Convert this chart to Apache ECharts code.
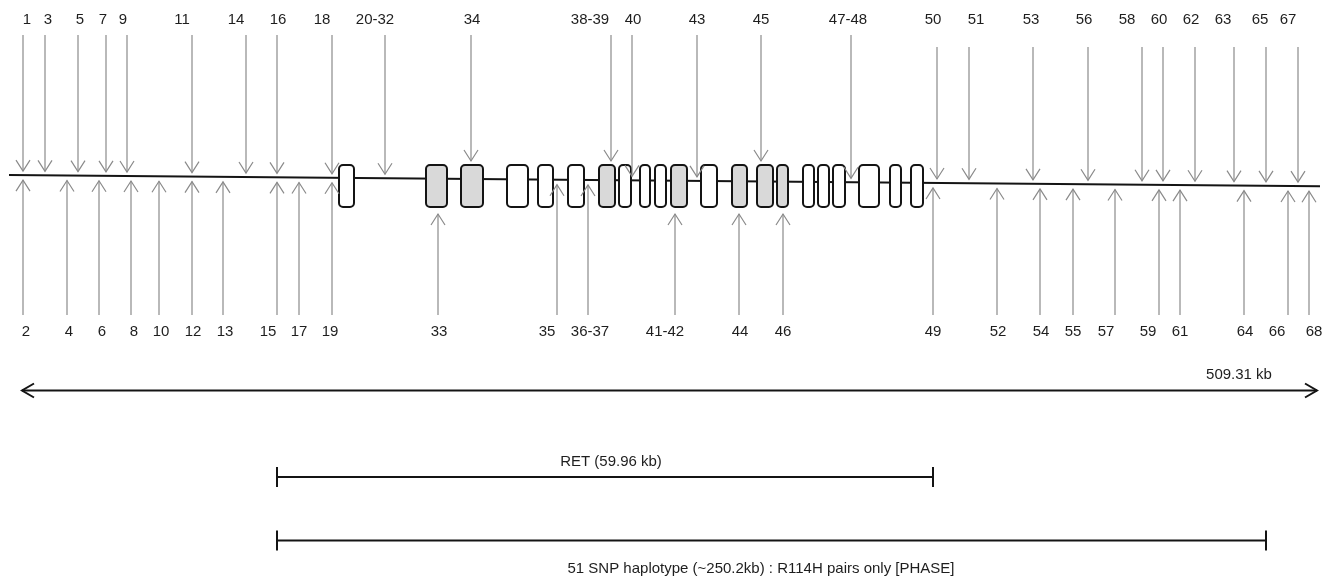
<!DOCTYPE html>
<html><head><meta charset="utf-8">
<script src="https://cdn.jsdelivr.net/npm/echarts@6/dist/echarts.min.js"></script>
<style>html,body{margin:0;padding:0;background:#fff}#c{width:1332px;height:576px}</style>
</head><body><div id="c"></div>
<script>
// ---- data (diagram position units along the locus) ----
const topLabels   = ['1','3','5','7','9','11','14','16','18','20-32','34','38-39','40','43','45','47-48','50','51','53','56','58','60','62','63','65','67'];
const topSnpX     = [23,45,78,106,127,192,246,277,332,385,471,611,632,697,761,851,937,969,1033,1088,1142,1163,1195,1234,1266,1298];
const topLabelX   = [27,48,80,103,123,182,236,278,322,375,472,590,633,697,761,848,933,976,1031,1084,1127,1159,1191,1223,1260,1288];

const bottomLabels = ['2','4','6','8','10','12','13','15','17','19','33','35','36-37','41-42','44','46','49','52','54','55','57','59','61','64','66','68'];
const bottomSnpX   = [23,67,99,131,159,192,223,277,299,332,438,557,588,675,739,783,933,997,1040,1073,1115,1159,1180,1244,1288,1309];
const bottomLabelX = [26,69,102,134,161,193,225,268,299,330,439,547,590,665,740,783,933,998,1041,1073,1106,1148,1180,1245,1277,1314];

const exonStart  = [339,426,461,507,538,568,599,619,640,655,671,701,732,757,777,803,818,833,859,890,911];
const exonEnd    = [354,447,483,528,553,584,615,631,650,666,687,717,747,773,788,814,829,845,879,901,923];
const exonShaded = [0,1,1,0,0,0,1,0,0,0,1,0,1,1,1,0,0,0,0,0,0];

const backboneX = [9, 1320];
const backboneY = [175, 186.3];

const spanX = [22, 1317];           // double arrow, 509.31 kb
const spanLabel = '509.31 kb';
const retX = [277, 933];
const retLabel = 'RET (59.96 kb)';
const hapX = [277, 1266];
const hapLabel = '51 SNP haplotype (~250.2kb) : R114H pairs only [PHASE]';

// ---- layout / style ----
const L = {
  topLabelY: 20, topStemY: 35, topStemYRight: 47, rightFrom: 920,
  bottomStemY: 315, bottomLabelY: 332,
  exonTop: 165, exonBottom: 207,
  spanY: 390.5, spanLabelY: 375, spanLabelX: 1239,
  retY: 477, retLabelY: 462, retLabelX: 611,
  hapY: 540.5, hapLabelY: 569, hapLabelX: 761,
  head: 7, headLen: 11
};
const FONT = '15px "Liberation Sans", Arial, sans-serif';
const TXT = '#1e1e1e', SNP = '#8a8a8a', INK = '#141414';

function lineY(x) {
  return backboneY[0] + (backboneY[1] - backboneY[0]) * (x - backboneX[0]) / (backboneX[1] - backboneX[0]);
}
function inExon(x) {
  for (let i = 0; i < exonStart.length; i++) if (x >= exonStart[i] && x <= exonEnd[i]) return true;
  return false;
}
function txt(p, s, extra) {
  return Object.assign({ type: 'text', silent: true, style: {
    text: s, x: p[0], y: p[1], fill: TXT, font: FONT,
    align: 'center', verticalAlign: 'middle', textAlign: 'center', textVerticalAlign: 'middle'
  }}, extra || {});
}

const chart = echarts.init(document.getElementById('c'), null, { renderer: 'canvas' });

const topData = topSnpX.map((x, i) => [x, topLabelX[i], i]);
const bottomData = bottomSnpX.map((x, i) => [x, bottomLabelX[i], i]);
const exonData = exonStart.map((s, i) => [s, exonEnd[i], exonShaded[i]]);

function snpRender(isTop) {
  return function (params, api) {
    const x = api.value(0), lx = api.value(1), idx = api.value(2);
    let tipY, stemY, labY, dir;
    if (isTop) {
      tipY = inExon(x) ? L.exonTop - 4 : lineY(x) - 4;
      stemY = x > L.rightFrom ? L.topStemYRight : L.topStemY;
      labY = L.topLabelY; dir = -1;
    } else {
      tipY = inExon(x) ? L.exonBottom + 7 : lineY(x) + 5;
      stemY = L.bottomStemY; labY = L.bottomLabelY; dir = 1;
    }
    const tip = api.coord([x, tipY]);
    const st = api.coord([x, stemY]);
    const a1 = api.coord([x - L.head, tipY + dir * L.headLen]);
    const a2 = api.coord([x + L.head, tipY + dir * L.headLen]);
    const lab = api.coord([lx, labY]);
    const label = isTop ? topLabels[idx] : bottomLabels[idx];
    return { type: 'group', children: [
      { type: 'line', shape: { x1: tip[0], y1: tip[1], x2: st[0], y2: st[1] }, style: { stroke: SNP, lineWidth: 1.2 } },
      { type: 'polyline', shape: { points: [a1, tip, a2] }, style: { stroke: SNP, lineWidth: 1.2, fill: null } },
      txt(lab, label)
    ]};
  };
}

function bracket(api, xs, y, label, labX, labY) {
  const p1 = api.coord([xs[0], y]), p2 = api.coord([xs[1], y]);
  const t1a = api.coord([xs[0], y - 10]), t1b = api.coord([xs[0], y + 10]);
  const t2a = api.coord([xs[1], y - 10]), t2b = api.coord([xs[1], y + 10]);
  const lp = api.coord([labX, labY]);
  return [
    { type: 'line', shape: { x1: p1[0], y1: p1[1], x2: p2[0], y2: p2[1] }, style: { stroke: INK, lineWidth: 2 } },
    { type: 'line', shape: { x1: t1a[0], y1: t1a[1], x2: t1b[0], y2: t1b[1] }, style: { stroke: INK, lineWidth: 2 } },
    { type: 'line', shape: { x1: t2a[0], y1: t2a[1], x2: t2b[0], y2: t2b[1] }, style: { stroke: INK, lineWidth: 2 } },
    txt(lp, label)
  ];
}

chart.setOption({
  animation: false,
  backgroundColor: '#ffffff',
  grid: { left: 0, right: 0, top: 0, bottom: 0 },
  xAxis: { type: 'value', min: 0, max: 1332, show: false },
  yAxis: { type: 'value', min: 0, max: 576, inverse: true, show: false },
  series: [
    { type: 'line', data: backboneX.map((x, i) => [x, backboneY[i]]), symbol: 'none',
      lineStyle: { color: INK, width: 2 }, silent: true, z: 1 },
    { type: 'custom', z: 2, clip: false, silent: true, data: exonData, encode: { x: [0, 1] },
      renderItem: function (params, api) {
        const s = api.value(0), e = api.value(1), sh = api.value(2);
        const p1 = api.coord([s, L.exonTop]), p2 = api.coord([e, L.exonBottom]);
        return { type: 'rect', shape: { x: p1[0], y: p1[1], width: p2[0] - p1[0], height: p2[1] - p1[1], r: 4 },
          style: { fill: sh ? '#d9d9d9' : '#ffffff', stroke: INK, lineWidth: 2 } };
      } },
    { type: 'custom', z: 3, clip: false, silent: true, data: topData, encode: { x: 0 }, renderItem: snpRender(true) },
    { type: 'custom', z: 3, clip: false, silent: true, data: bottomData, encode: { x: 0 }, renderItem: snpRender(false) },
    { type: 'custom', z: 3, clip: false, silent: true, data: [[spanX[0], spanX[1]]], encode: { x: [0, 1] },
      renderItem: function (params, api) {
        const a = api.value(0), b = api.value(1);
        const p1 = api.coord([a, L.spanY]), p2 = api.coord([b, L.spanY]);
        const h1 = [api.coord([a + 12, L.spanY - 7]), p1, api.coord([a + 12, L.spanY + 7])];
        const h2 = [api.coord([b - 12, L.spanY - 7]), p2, api.coord([b - 12, L.spanY + 7])];
        const lp = api.coord([L.spanLabelX, L.spanLabelY]);
        const kids = [
          { type: 'line', shape: { x1: p1[0], y1: p1[1], x2: p2[0], y2: p2[1] }, style: { stroke: INK, lineWidth: 2 } },
          { type: 'polyline', shape: { points: h1 }, style: { stroke: INK, lineWidth: 2, fill: null } },
          { type: 'polyline', shape: { points: h2 }, style: { stroke: INK, lineWidth: 2, fill: null } },
          txt(lp, spanLabel)
        ];
        return { type: 'group', children: kids.concat(
          bracket(api, retX, L.retY, retLabel, L.retLabelX, L.retLabelY),
          bracket(api, hapX, L.hapY, hapLabel, L.hapLabelX, L.hapLabelY)) };
      } }
  ]
});
</script></body></html>
